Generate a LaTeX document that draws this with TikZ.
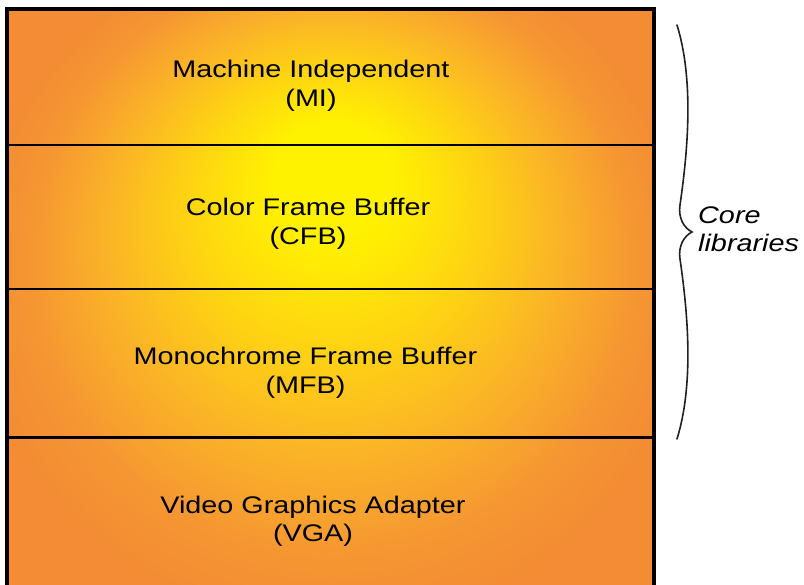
\documentclass[tikz,border=0pt]{standalone}
\usepackage{fontspec}
\newfontfamily\labfont[FakeStretch=1.2]{Liberation Sans}
\definecolor{glowout}{RGB}{243,140,52}
\definecolor{glowa}{RGB}{245,150,50}
\definecolor{glowb}{RGB}{250,178,40}
\definecolor{glowc}{RGB}{254,212,18}
\definecolor{glowin}{RGB}{255,242,0}
\definecolor{bracegray}{RGB}{35,31,32}
\pgfdeclareradialshading{glow}{\pgfpoint{0bp}{17.2bp}}{color(0bp)=(glowin); color(8bp)=(glowin); color(20bp)=(glowc); color(32bp)=(glowb); color(42bp)=(glowa); color(50bp)=(glowout)}
\newcommand\twoline[2]{\vtop{\baselineskip=28.5pt\halign{\hfil##\hfil\cr#1\cr#2\cr}}}
\newcommand\twolineleft[2]{\vtop{\baselineskip=28pt\halign{##\hfil\cr#1\cr#2\cr}}}
\begin{document}
\begin{tikzpicture}[x=1pt,y=-1pt,
  lab/.style={font={\labfont\fontsize{24}{28.5}\selectfont}, inner sep=0pt, text=black},
  itlab/.style={font={\labfont\itshape\fontsize{24}{28}\selectfont}, inner sep=0pt, text=black},
  divider/.style={line width=2.7pt, black},
  border/.style={line width=4pt, black},
  bracestyle/.style={line width=1.6pt, bracegray, line cap=round}]
\useasboundingbox (0,0) rectangle (804,585);
\begin{scope}
  \clip (0,0) rectangle (804,585);
  \fill[glowout] (7,9) rectangle (654,600);
  \begin{scope}
    \clip (7,9) rectangle (654,600);
    \pgftransformshift{\pgfpointxy{333}{280}}
    \pgftransformxscale{7.173}
    \pgftransformyscale{6.974}
    \pgflowlevelsynccm
    \pgfuseshading{glow}
  \end{scope}
  \draw[divider] (7,145) -- (654,145);
  \draw[divider] (7,289) -- (654,289);
  \draw[divider] (7,437.5) -- (654,437.5);
  \draw[border] (7,600) -- (7,9) -- (654,9) -- (654,600);
\end{scope}
\node[lab, anchor=base] (mi) at (311,78) {\twoline{Machine Independent}{(MI)}};
\node[lab, anchor=base] (cfb) at (308,216) {\twoline{Color Frame Buffer}{(CFB)}};
\node[lab, anchor=base] (mfb) at (305.5,365) {\twoline{Monochrome Frame Buffer}{(MFB)}};
\node[lab, anchor=base] (vga) at (313,513) {\twoline{Video Graphics Adapter}{(VGA)}};
\draw[bracestyle] (677,25) .. controls (694,80) and (688,150) .. (680,205)
  .. controls (678,218) and (684,228) .. (692,232)
  .. controls (684,236) and (678,246) .. (680,259)
  .. controls (688,314) and (694,384) .. (677,439);
\node[itlab, anchor=base west] (core) at (698,224) {\twolineleft{Core}{libraries}};
\end{tikzpicture}
\end{document}
